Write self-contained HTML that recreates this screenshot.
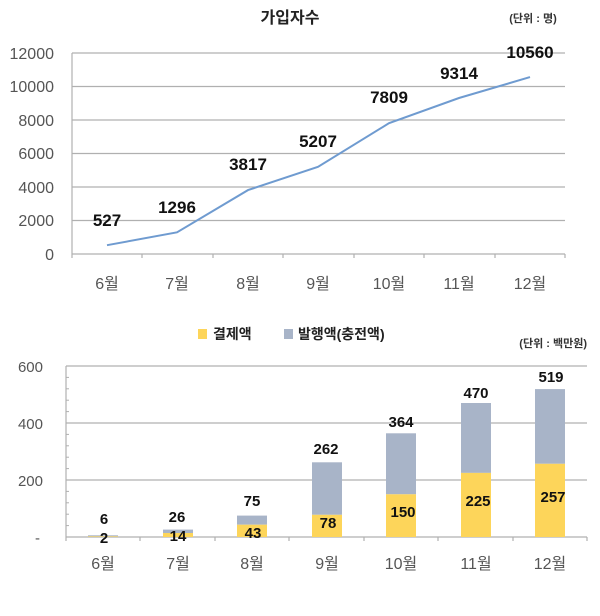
<!DOCTYPE html>
<html><head><meta charset="utf-8"><style>
html,body{margin:0;padding:0;background:#fff}
svg{display:block}
text{font-family:"Liberation Sans","Noto Sans CJK KR",sans-serif}
</style></head><body>
<svg width="600" height="616" viewBox="0 0 600 616" xmlns="http://www.w3.org/2000/svg">
<text x="290" y="23" font-size="16" font-weight="bold" text-anchor="middle" fill="#222">가입자수</text>
<text x="533" y="22" font-size="11" font-weight="bold" text-anchor="middle" fill="#333">(단위 : 명)</text>
<g stroke="#b0b0b0" stroke-width="1.2">
<line x1="72" y1="53" x2="565" y2="53"/>
<line x1="72" y1="86.5" x2="565" y2="86.5"/>
<line x1="72" y1="120" x2="565" y2="120"/>
<line x1="72" y1="153.5" x2="565" y2="153.5"/>
<line x1="72" y1="187" x2="565" y2="187"/>
<line x1="72" y1="220.5" x2="565" y2="220.5"/>
<line x1="72" y1="254" x2="565" y2="254"/>
<line x1="72" y1="53" x2="72" y2="258"/>
<line x1="142" y1="254" x2="142" y2="258"/><line x1="213" y1="254" x2="213" y2="258"/>
<line x1="283" y1="254" x2="283" y2="258"/><line x1="354" y1="254" x2="354" y2="258"/>
<line x1="424" y1="254" x2="424" y2="258"/><line x1="495" y1="254" x2="495" y2="258"/>
<line x1="565" y1="254" x2="565" y2="258"/>
</g>
<g font-size="16" fill="#555" text-anchor="end">
<text x="54" y="59">12000</text><text x="54" y="92">10000</text><text x="54" y="126">8000</text>
<text x="54" y="159">6000</text><text x="54" y="193">4000</text><text x="54" y="226">2000</text><text x="54" y="260">0</text>
</g>
<g font-size="16" fill="#555" text-anchor="middle">
<text x="107" y="289">6월</text><text x="177" y="289">7월</text><text x="248" y="289">8월</text>
<text x="318" y="289">9월</text><text x="389" y="289">10월</text><text x="459" y="289">11월</text><text x="530" y="289">12월</text>
</g>
<polyline fill="none" stroke="#6f9bd0" stroke-width="2" points="107,245.2 177,232.3 248,190.1 318,166.8 389,123.2 459,98 530,77.1"/>
<g font-size="17" font-weight="bold" fill="#111" text-anchor="middle">
<text x="107" y="226">527</text><text x="177" y="213">1296</text><text x="248" y="170">3817</text>
<text x="318" y="147">5207</text><text x="389" y="103">7809</text><text x="459" y="79">9314</text><text x="530" y="58">10560</text>
</g>
<rect x="198" y="329" width="9" height="10" fill="#fdd55a"/>
<text x="213" y="339" font-size="14" font-weight="bold" fill="#222">결제액</text>
<rect x="284" y="329" width="9" height="10" fill="#a8b4c8"/>
<text x="298" y="339" font-size="14" font-weight="bold" fill="#222">발행액(충전액)</text>
<text x="587" y="347" font-size="11" font-weight="bold" text-anchor="end" fill="#333">(단위 : 백만원)</text>
<g stroke="#b0b0b0" stroke-width="1.2">
<line x1="66" y1="366" x2="587" y2="366"/>
<line x1="66" y1="423" x2="587" y2="423"/>
<line x1="66" y1="480" x2="587" y2="480"/>
<line x1="66" y1="537" x2="587" y2="537"/>
<line x1="66" y1="366" x2="66" y2="541"/>
<line x1="140" y1="537" x2="140" y2="541"/><line x1="215" y1="537" x2="215" y2="541"/>
<line x1="289" y1="537" x2="289" y2="541"/><line x1="364" y1="537" x2="364" y2="541"/>
<line x1="438" y1="537" x2="438" y2="541"/><line x1="513" y1="537" x2="513" y2="541"/>
<line x1="587" y1="537" x2="587" y2="541"/>
</g>
<g stroke="#b0b0b0" stroke-width="1">
<line x1="66" y1="377.4" x2="69" y2="377.4"/><line x1="66" y1="388.8" x2="69" y2="388.8"/><line x1="66" y1="400.2" x2="69" y2="400.2"/><line x1="66" y1="411.6" x2="69" y2="411.6"/>
<line x1="66" y1="434.4" x2="69" y2="434.4"/><line x1="66" y1="445.8" x2="69" y2="445.8"/><line x1="66" y1="457.2" x2="69" y2="457.2"/><line x1="66" y1="468.6" x2="69" y2="468.6"/>
<line x1="66" y1="491.4" x2="69" y2="491.4"/><line x1="66" y1="502.8" x2="69" y2="502.8"/><line x1="66" y1="514.2" x2="69" y2="514.2"/><line x1="66" y1="525.6" x2="69" y2="525.6"/>
</g>
<g font-size="15" fill="#555" text-anchor="end">
<text x="43" y="372">600</text><text x="43" y="429">400</text><text x="43" y="486">200</text><text x="40" y="543">-</text>
</g>
<g font-size="16" fill="#555" text-anchor="middle">
<text x="103" y="569">6월</text><text x="178" y="569">7월</text><text x="252" y="569">8월</text>
<text x="327" y="569">9월</text><text x="401" y="569">10월</text><text x="476" y="569">11월</text><text x="550" y="569">12월</text>
</g>
<g>
<rect x="88" y="535.3" width="30" height="1.1" fill="#a8b4c8"/><rect x="88" y="536.4" width="30" height="0.6" fill="#fdd55a"/>
<rect x="163" y="529.6" width="30" height="3.4" fill="#a8b4c8"/><rect x="163" y="533" width="30" height="4" fill="#fdd55a"/>
<rect x="237" y="515.6" width="30" height="9.1" fill="#a8b4c8"/><rect x="237" y="524.7" width="30" height="12.3" fill="#fdd55a"/>
<rect x="312" y="462.3" width="30" height="52.5" fill="#a8b4c8"/><rect x="312" y="514.8" width="30" height="22.2" fill="#fdd55a"/>
<rect x="386" y="433.3" width="30" height="61" fill="#a8b4c8"/><rect x="386" y="494.3" width="30" height="42.7" fill="#fdd55a"/>
<rect x="461" y="403" width="30" height="69.9" fill="#a8b4c8"/><rect x="461" y="472.9" width="30" height="64.1" fill="#fdd55a"/>
<rect x="535" y="389.1" width="30" height="74.7" fill="#a8b4c8"/><rect x="535" y="463.8" width="30" height="73.2" fill="#fdd55a"/>
</g>
<g font-size="15" font-weight="bold" fill="#111" text-anchor="middle">
<text x="104" y="524">6</text><text x="177" y="522">26</text><text x="252" y="506">75</text>
<text x="326" y="454">262</text><text x="401" y="427">364</text><text x="476" y="398">470</text><text x="551" y="382">519</text>
<text x="104" y="543">2</text><text x="178" y="541">14</text><text x="253" y="538">43</text>
<text x="328" y="528">78</text><text x="403" y="517">150</text><text x="478" y="506">225</text><text x="553" y="502">257</text>
</g>
</svg>
</body></html>
